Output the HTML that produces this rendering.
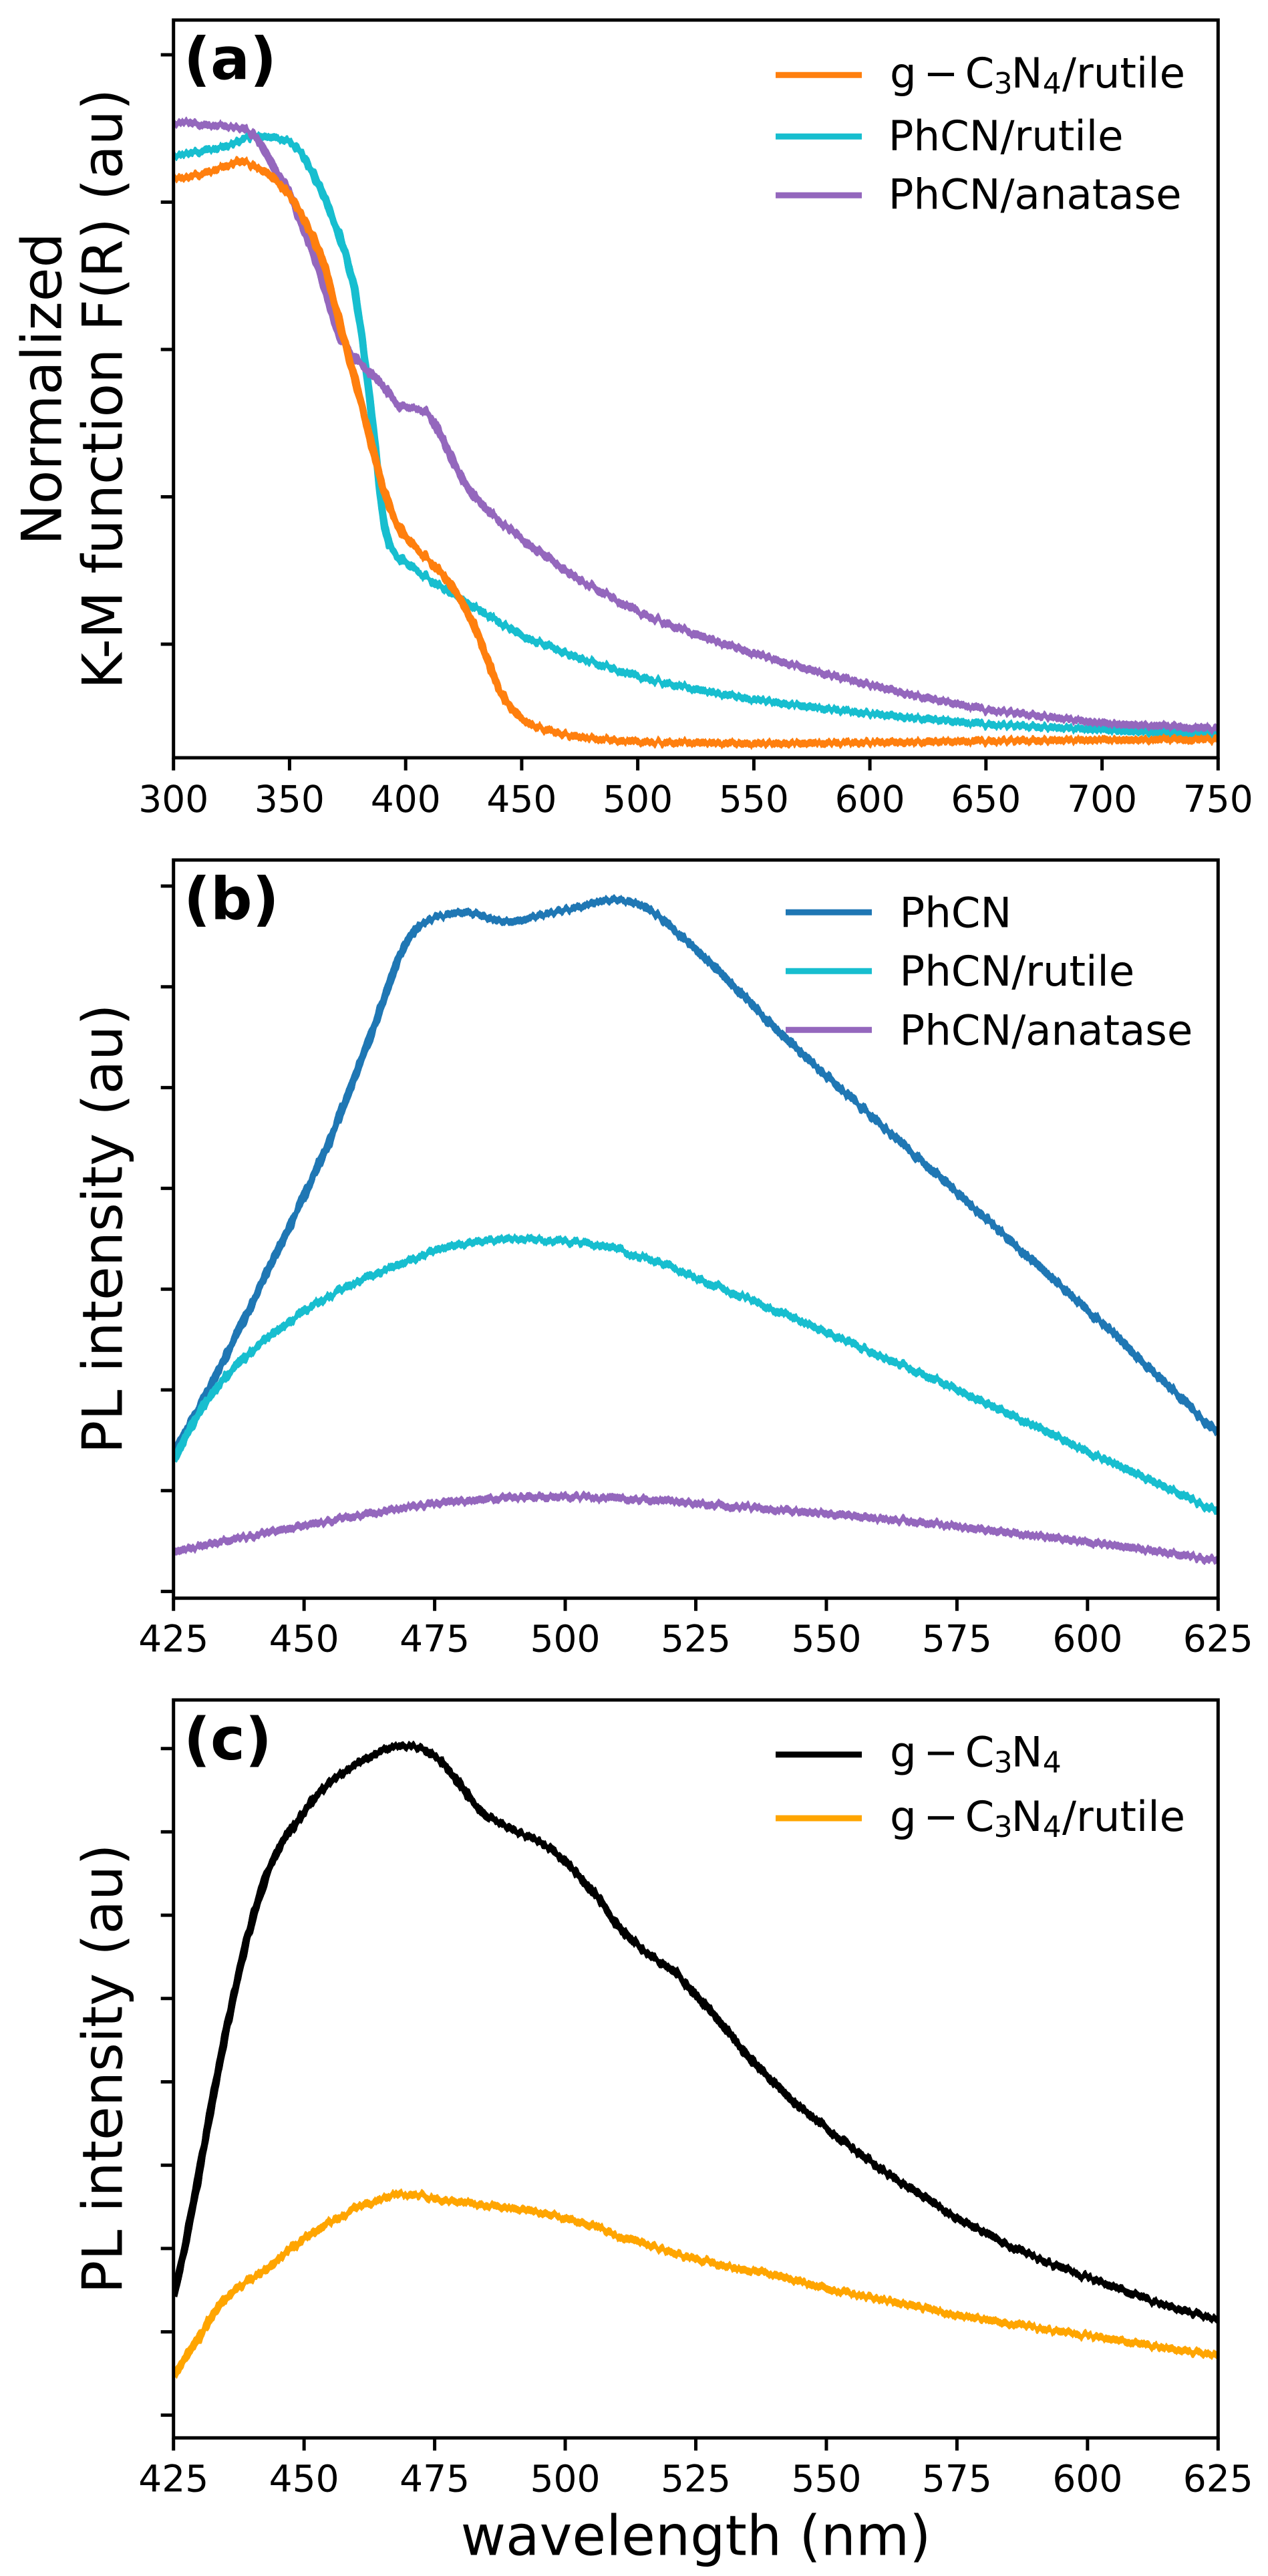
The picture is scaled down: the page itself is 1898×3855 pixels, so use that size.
<!DOCTYPE html>
<html>
<head>
<meta charset="utf-8">
<style>
html,body{margin:0;padding:0;background:#fff;}
body{width:1898px;height:3855px;overflow:hidden;}
svg{display:block;}
text{font-family:"DejaVu Sans","Liberation Sans",sans-serif;fill:#000;}
.tl{font-size:55px;text-anchor:middle;}
.yl{font-size:82.5px;text-anchor:middle;}
.lg{font-size:62.5px;}
.sub{font-size:44px;}
.pl{font-size:87.5px;font-weight:bold;}
.ln{fill:none;stroke-width:11.5;stroke-linejoin:round;stroke-linecap:butt;}
.sp{fill:none;stroke:#000;stroke-width:5;}
.tk{stroke:#000;stroke-width:5;}
</style>
</head>
<body>
<svg width="1898" height="3855" viewBox="0 0 1898 3855" xmlns="http://www.w3.org/2000/svg">
<rect width="1898" height="3855" fill="#fff"/>
<defs>
<clipPath id="ca"><rect x="259.7" y="30" width="1563.6" height="1104"/></clipPath>
<clipPath id="cb"><rect x="259.7" y="1287" width="1563.6" height="1104.7"/></clipPath>
<clipPath id="cc"><rect x="259.7" y="2544" width="1563.6" height="1104.3"/></clipPath>
<filter id="jit" filterUnits="userSpaceOnUse" x="0" y="0" width="1898" height="3855" color-interpolation-filters="sRGB">
<feTurbulence type="fractalNoise" baseFrequency="0.18 0.0008" numOctaves="2" seed="7" result="t"/>
<feColorMatrix in="t" type="matrix" values="0 0 0 0 0.5  1 0 0 0 0  0 0 0 0 0  0 0 0 0 1" result="m"/>
<feDisplacementMap in="SourceGraphic" in2="m" scale="14" xChannelSelector="R" yChannelSelector="G"/>
</filter>
</defs>

<!-- ================= PANEL A ================= -->
<g clip-path="url(#ca)">
<g filter="url(#jit)">
<g transform="translate(-782.71,0) scale(3.4747,1)">
<polyline class="ln" vector-effect="non-scaling-stroke" stroke="#17becf" points="300,233 305,230 310,228 315,224 320,222 325,216 330,208 335,203 340,205 345,207 350,213 355,228 360,258 365,295 370,340 373,367 376,405 378,433 381,500 384,580 387,670 389,740 391,790 393,815 396,830 400,843 410,866 420,888 430,910 440,930 450,950 460,965 475,985 500,1012 525,1032 550,1047 575,1058 600,1068 650,1084 700,1092 750,1100"/>
<polyline class="ln" vector-effect="non-scaling-stroke" stroke="#9467bd" points="300,185 305,182 310,186 315,188 320,188 325,190 330,192 334,200 337,213 340,230 343,250 346,266 349,283 352,305 354,327 357,350 359,367 362,395 364,420 367,455 370,490 373,512 376,528 380,543 385,558 390,576 395,598 398,608 402,612 406,612 409,616 412,630 415,650 418,672 421,695 425,720 430,745 435,763 440,778 450,805 460,832 475,868 500,915 525,950 550,978 575,1003 600,1025 625,1045 650,1062 700,1082 750,1091"/>
<polyline class="ln" vector-effect="non-scaling-stroke" stroke="#ff7f0e" points="300,265 305,266 310,262 315,258 320,252 325,246 328,240 332,244 335,250 340,258 345,273 350,293 355,320 360,353 365,397 370,462 375,528 380,592 385,660 390,728 395,775 400,805 405,822 410,838 415,855 420,878 425,905 430,940 435,985 440,1030 445,1058 450,1075 455,1085 460,1092 470,1100 480,1105 500,1110 550,1113 600,1111 650,1109 700,1107 750,1107"/>
</g>
</g>
</g>
<rect class="sp" x="259.7" y="30" width="1563.6" height="1104"/>
<g class="tk">
<line x1="240.7" y1="82" x2="259.7" y2="82"/>
<line x1="240.7" y1="302.5" x2="259.7" y2="302.5"/>
<line x1="240.7" y1="523" x2="259.7" y2="523"/>
<line x1="240.7" y1="743.5" x2="259.7" y2="743.5"/>
<line x1="240.7" y1="964" x2="259.7" y2="964"/>
<line x1="259.7" y1="1134" x2="259.7" y2="1153"/>
<line x1="433.4" y1="1134" x2="433.4" y2="1153"/>
<line x1="607.2" y1="1134" x2="607.2" y2="1153"/>
<line x1="780.9" y1="1134" x2="780.9" y2="1153"/>
<line x1="954.6" y1="1134" x2="954.6" y2="1153"/>
<line x1="1128.4" y1="1134" x2="1128.4" y2="1153"/>
<line x1="1302.1" y1="1134" x2="1302.1" y2="1153"/>
<line x1="1475.8" y1="1134" x2="1475.8" y2="1153"/>
<line x1="1649.6" y1="1134" x2="1649.6" y2="1153"/>
<line x1="1823.3" y1="1134" x2="1823.3" y2="1153"/>
</g>
<g class="tl">
<text x="259.7" y="1215">300</text>
<text x="433.4" y="1215">350</text>
<text x="607.2" y="1215">400</text>
<text x="780.9" y="1215">450</text>
<text x="954.6" y="1215">500</text>
<text x="1128.4" y="1215">550</text>
<text x="1302.1" y="1215">600</text>
<text x="1475.8" y="1215">650</text>
<text x="1649.6" y="1215">700</text>
<text x="1823.3" y="1215">750</text>
</g>
<text class="yl" x="91.5" y="582" transform="rotate(-90 91.5 582)">Normalized</text>
<text class="yl" x="182.7" y="582" transform="rotate(-90 182.7 582)">K-M function F(R) (au)</text>
<text class="pl" x="275" y="118.5">(a)</text>
<!-- legend a -->
<line x1="1161" y1="112.3" x2="1290" y2="112.3" stroke="#ff7f0e" stroke-width="9"/>
<line x1="1161" y1="204.3" x2="1290" y2="204.3" stroke="#17becf" stroke-width="9"/>
<line x1="1161" y1="292.3" x2="1290" y2="292.3" stroke="#9467bd" stroke-width="9"/>
<text class="lg" x="1332" y="131">g</text>
<text class="lg" x="1382.4" y="131">−</text>
<text class="lg" x="1444.6" y="131">C</text>
<text class="lg sub" x="1487.6" y="140">3</text>
<text class="lg" x="1513.8" y="131">N</text>
<text class="lg sub" x="1560.8" y="140">4</text>
<text class="lg" x="1590" y="131">/rutile</text>
<text class="lg" x="1329.8" y="225">PhCN/rutile</text>
<text class="lg" x="1329.8" y="312.7">PhCN/anatase</text>

<!-- ================= PANEL B ================= -->
<g clip-path="url(#cb)">
<g filter="url(#jit)">
<g transform="translate(-3062.95,0) scale(7.818,1)">
<polyline class="ln" vector-effect="non-scaling-stroke" stroke="#1f77b4" points="425,2175 430,2105 435,2030 440,1950 445,1870 450,1790 455,1705 460,1605 463,1545 466,1480 468,1435 470,1405 472,1385 475,1373 478,1368 481,1365 484,1370 487,1378 490,1380 493,1375 496,1368 500,1362 503,1357 506,1350 509,1347 512,1348 515,1356 518,1372 521,1393 525,1420 530,1458 535,1497 540,1537 545,1575 550,1610 555,1645 560,1680 565,1715 570,1750 575,1785 580,1820 585,1855 590,1890 595,1925 600,1960 605,1995 610,2035 615,2070 620,2108 625,2145"/>
<polyline class="ln" vector-effect="non-scaling-stroke" stroke="#17becf" points="425,2187 428,2140 431,2100 435,2060 440,2020 445,1990 450,1962 455,1938 460,1918 465,1902 470,1887 475,1872 480,1862 485,1856 490,1855 495,1856 500,1858 505,1862 510,1870 515,1882 520,1896 525,1912 530,1928 540,1960 550,1994 560,2028 570,2062 580,2098 590,2134 600,2172 610,2208 620,2244 625,2262"/>
<polyline class="ln" vector-effect="non-scaling-stroke" stroke="#9467bd" points="425,2323 430,2314 435,2306 440,2298 450,2283 460,2268 470,2255 480,2246 490,2241 500,2240 510,2242 520,2247 530,2253 540,2259 550,2265 560,2272 570,2280 580,2289 590,2298 600,2307 610,2318 625,2335"/>
</g>
</g>
</g>
<rect class="sp" x="259.7" y="1287" width="1563.6" height="1104.7"/>
<g class="tk">
<line x1="240.7" y1="1326" x2="259.7" y2="1326"/>
<line x1="240.7" y1="1476.8" x2="259.7" y2="1476.8"/>
<line x1="240.7" y1="1627.6" x2="259.7" y2="1627.6"/>
<line x1="240.7" y1="1778.4" x2="259.7" y2="1778.4"/>
<line x1="240.7" y1="1929.2" x2="259.7" y2="1929.2"/>
<line x1="240.7" y1="2080" x2="259.7" y2="2080"/>
<line x1="240.7" y1="2230.8" x2="259.7" y2="2230.8"/>
<line x1="240.7" y1="2381.6" x2="259.7" y2="2381.6"/>
<line x1="259.7" y1="2391.7" x2="259.7" y2="2410.7"/>
<line x1="455.15" y1="2391.7" x2="455.15" y2="2410.7"/>
<line x1="650.6" y1="2391.7" x2="650.6" y2="2410.7"/>
<line x1="846.05" y1="2391.7" x2="846.05" y2="2410.7"/>
<line x1="1041.5" y1="2391.7" x2="1041.5" y2="2410.7"/>
<line x1="1236.95" y1="2391.7" x2="1236.95" y2="2410.7"/>
<line x1="1432.4" y1="2391.7" x2="1432.4" y2="2410.7"/>
<line x1="1627.85" y1="2391.7" x2="1627.85" y2="2410.7"/>
<line x1="1823.3" y1="2391.7" x2="1823.3" y2="2410.7"/>
</g>
<g class="tl">
<text x="259.7" y="2471.7">425</text>
<text x="455.15" y="2471.7">450</text>
<text x="650.6" y="2471.7">475</text>
<text x="846.05" y="2471.7">500</text>
<text x="1041.5" y="2471.7">525</text>
<text x="1236.95" y="2471.7">550</text>
<text x="1432.4" y="2471.7">575</text>
<text x="1627.85" y="2471.7">600</text>
<text x="1823.3" y="2471.7">625</text>
</g>
<text class="yl" x="182.7" y="1839" transform="rotate(-90 182.7 1839)">PL intensity (au)</text>
<text class="pl" x="275" y="1375.5">(b)</text>
<!-- legend b -->
<line x1="1176" y1="1365.3" x2="1305" y2="1365.3" stroke="#1f77b4" stroke-width="9"/>
<line x1="1176" y1="1453.3" x2="1305" y2="1453.3" stroke="#17becf" stroke-width="9"/>
<line x1="1176" y1="1541.3" x2="1305" y2="1541.3" stroke="#9467bd" stroke-width="9"/>
<text class="lg" x="1346.5" y="1387.7">PhCN</text>
<text class="lg" x="1346.5" y="1475">PhCN/rutile</text>
<text class="lg" x="1346.5" y="1563.3">PhCN/anatase</text>

<!-- ================= PANEL C ================= -->
<g clip-path="url(#cc)">
<g filter="url(#jit)">
<g transform="translate(-3062.95,0) scale(7.818,1)">
<polyline class="ln" vector-effect="non-scaling-stroke" stroke="#000000" points="425,3435 427,3370 429,3290 431,3205 433,3120 435,3040 437,2970 439,2905 441,2850 443,2800 446,2755 449,2722 452,2690 455,2667 458,2650 461,2636 464,2624 467,2614 470,2612 473,2618 476,2634 479,2660 482,2695 485,2718 488,2730 491,2742 494,2752 497,2765 500,2785 503,2810 506,2838 509,2870 512,2898 515,2920 518,2935 521,2950 525,2985 530,3030 537,3095 545,3155 550,3185 562,3255 575,3320 588,3372 600,3408 613,3445 625,3472"/>
<polyline class="ln" vector-effect="non-scaling-stroke" stroke="#ffa500" points="425,3555 428,3520 430,3497 432,3470 434.4,3443 437,3425 440,3410 443,3395 447,3370 450,3350 455,3325 460,3305 465,3290 468,3282 472,3285 476,3292 480,3295 485,3300 490,3305 495,3310 500,3318 505,3330 510,3345 515,3358 520,3370 525,3380 530,3390 540,3405 550,3425 560,3440 575,3465 590,3483 600,3495 612,3510 625,3525"/>
</g>
</g>
</g>
<rect class="sp" x="259.7" y="2544" width="1563.6" height="1104.3"/>
<g class="tk">
<line x1="240.7" y1="2616.7" x2="259.7" y2="2616.7"/>
<line x1="240.7" y1="2741.4" x2="259.7" y2="2741.4"/>
<line x1="240.7" y1="2866.1" x2="259.7" y2="2866.1"/>
<line x1="240.7" y1="2990.8" x2="259.7" y2="2990.8"/>
<line x1="240.7" y1="3115.5" x2="259.7" y2="3115.5"/>
<line x1="240.7" y1="3240.2" x2="259.7" y2="3240.2"/>
<line x1="240.7" y1="3364.9" x2="259.7" y2="3364.9"/>
<line x1="240.7" y1="3489.6" x2="259.7" y2="3489.6"/>
<line x1="240.7" y1="3614.3" x2="259.7" y2="3614.3"/>
<line x1="259.7" y1="3648.3" x2="259.7" y2="3667.3"/>
<line x1="455.15" y1="3648.3" x2="455.15" y2="3667.3"/>
<line x1="650.6" y1="3648.3" x2="650.6" y2="3667.3"/>
<line x1="846.05" y1="3648.3" x2="846.05" y2="3667.3"/>
<line x1="1041.5" y1="3648.3" x2="1041.5" y2="3667.3"/>
<line x1="1236.95" y1="3648.3" x2="1236.95" y2="3667.3"/>
<line x1="1432.4" y1="3648.3" x2="1432.4" y2="3667.3"/>
<line x1="1627.85" y1="3648.3" x2="1627.85" y2="3667.3"/>
<line x1="1823.3" y1="3648.3" x2="1823.3" y2="3667.3"/>
</g>
<g class="tl">
<text x="259.7" y="3728.3">425</text>
<text x="455.15" y="3728.3">450</text>
<text x="650.6" y="3728.3">475</text>
<text x="846.05" y="3728.3">500</text>
<text x="1041.5" y="3728.3">525</text>
<text x="1236.95" y="3728.3">550</text>
<text x="1432.4" y="3728.3">575</text>
<text x="1627.85" y="3728.3">600</text>
<text x="1823.3" y="3728.3">625</text>
</g>
<text class="yl" x="182.7" y="3096" transform="rotate(-90 182.7 3096)">PL intensity (au)</text>
<text class="yl" x="1041.5" y="3823.3">wavelength (nm)</text>
<text class="pl" x="275" y="2633">(c)</text>
<!-- legend c -->
<line x1="1161" y1="2625.7" x2="1290" y2="2625.7" stroke="#000000" stroke-width="9"/>
<line x1="1161" y1="2721" x2="1290" y2="2721" stroke="#ffa500" stroke-width="9"/>
<text class="lg" x="1332" y="2643.3">g</text>
<text class="lg" x="1382.4" y="2643.3">−</text>
<text class="lg" x="1444.6" y="2643.3">C</text>
<text class="lg sub" x="1487.6" y="2652.5">3</text>
<text class="lg" x="1513.8" y="2643.3">N</text>
<text class="lg sub" x="1560.8" y="2652.5">4</text>
<text class="lg" x="1332" y="2740">g</text>
<text class="lg" x="1382.4" y="2740">−</text>
<text class="lg" x="1444.6" y="2740">C</text>
<text class="lg sub" x="1487.6" y="2749.2">3</text>
<text class="lg" x="1513.8" y="2740">N</text>
<text class="lg sub" x="1560.8" y="2749.2">4</text>
<text class="lg" x="1590" y="2740">/rutile</text>
</svg>
</body>
</html>
